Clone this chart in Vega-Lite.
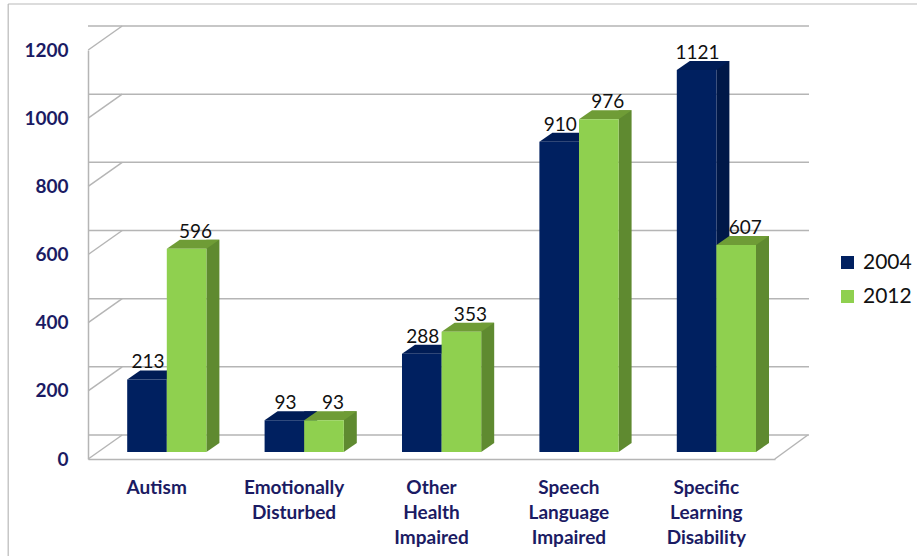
{
"$schema":"https://vega.github.io/schema/vega-lite/v6.json",
"width":687,"height":409,
"autosize":{"type":"none"},
"padding":{"left":88,"top":50,"right":142,"bottom":97},
"background":"white",
"config":{"view":{"stroke":null}},
"datasets":{
"bars":[
{"category":"Autism","year":"2004","value":213},{"category":"Autism","year":"2012","value":596},
{"category":"Emotionally Disturbed","year":"2004","value":93},{"category":"Emotionally Disturbed","year":"2012","value":93},
{"category":"Other Health Impaired","year":"2004","value":288},{"category":"Other Health Impaired","year":"2012","value":353},
{"category":"Speech Language Impaired","year":"2004","value":910},{"category":"Speech Language Impaired","year":"2012","value":976},
{"category":"Specific Learning Disability","year":"2004","value":1121},{"category":"Specific Learning Disability","year":"2012","value":607}],
"ticks":[{"tick":0},{"tick":200},{"tick":400},{"tick":600},{"tick":800},{"tick":1000},{"tick":1200}]
},
"layer":[
{"data":{"name":"ticks"},"mark":{"type":"rule","color":"#b5b5b5","strokeWidth":1.5,"xOffset":34,"yOffset":-24},
 "encoding":{"y":{"field":"tick","type":"quantitative","scale":{"domain":[0,1200],"nice":false}}}},
{"data":{"name":"ticks"},"mark":{"type":"point","shape":"M-29,0L5,-24","size":4,"stroke":"#b5b5b5","strokeWidth":1.5,"opacity":1,"filled":false},
 "encoding":{"x":{"datum":"Autism","bandPosition":0},"y":{"field":"tick","type":"quantitative"}}},
{"data":{"values":[{"tick":0}]},"mark":{"type":"point","shape":"M29,0L62,-24","size":4,"stroke":"#b5b5b5","strokeWidth":1.5,"opacity":1,"filled":false},
 "encoding":{"x":{"datum":"Specific Learning Disability","bandPosition":1},"y":{"field":"tick","type":"quantitative"}}},
{"data":{"values":[{"tick":1200}]},"mark":{"type":"point","shape":"M-109,-46H800M-109,-46V506","size":4,"stroke":"#b9b9b9","strokeWidth":1.2,"opacity":1,"filled":false},
 "encoding":{"x":{"datum":"Autism","bandPosition":0},"y":{"field":"tick","type":"quantitative"}}},
{"data":{"name":"bars"},
 "encoding":{
 "x":{"field":"category","type":"nominal","sort":null,
 "scale":{"domain":["Autism","Emotionally Disturbed","Other Health Impaired","Speech Language Impaired","Specific Learning Disability"],"paddingInner":0.425,"paddingOuter":0.2125},
 "axis":{"title":null,"labelAngle":0,"labelAlign":"center","ticks":false,"labelPadding":28,"labelFont":"Lato","labelFontWeight":"bold","labelFontSize":19,"labelColor":"#1b1b63","domainColor":"#b5b5b5","domainWidth":1.5,"labelLineHeight":25,"labelBaseline":"middle","labelExpr":"split(datum.label,' ')","labelLimit":0}},
 "y":{"field":"value","type":"quantitative","scale":{"domain":[0,1200],"nice":false},
 "axis":{"title":null,"grid":false,"ticks":false,"format":"d","values":[0,200,400,600,800,1000,1200],"labelPadding":20,"labelFont":"Lato","labelFontWeight":"bold","labelFontSize":19,"labelColor":"#1b1b63","domainColor":"#b5b5b5","domainWidth":1.5}}
 },
 "layer":[
 {"mark":{"type":"bar","size":13,"yOffset":-16},
  "encoding":{"xOffset":{"field":"year","type":"nominal","scale":{"domain":["2004","2012"],"range":[36.3,115.5]}},
  "color":{"field":"year","type":"nominal","legend":null,"scale":{"domain":["2004","2012"],"range":["#001848","#5f8a30"]}}}},
 {"layer":[
 {"mark":{"type":"point","shape":"M19.8,0L32.8,0L19.8,9Z","size":4,"filled":true,"opacity":1,"strokeWidth":0,"yOffset":-16},
  "encoding":{"y":{"datum":0,"type":"quantitative"},"color":{"field":"year","type":"nominal","legend":null,"scale":{"domain":["2004","2012"],"range":["#001848","#5f8a30"]}}}},
 {"mark":{"type":"point","shape":"M-19.8,0L-6.8,-9L32.8,-9L19.8,0Z","size":4,"filled":true,"opacity":1,"strokeWidth":0,"yOffset":-7},
  "encoding":{"color":{"field":"year","type":"nominal","legend":null,"scale":{"domain":["2004","2012"],"range":["#001c55","#6f9c36"]}}}},
 {"mark":{"type":"bar","size":39.6,"yOffset":-7},
  "encoding":{"color":{"field":"year","type":"nominal","scale":{"domain":["2004","2012"],"range":["#002060","#8fd04f"]},
   "legend":{"title":null,"orient":"none","legendX":749,"legendY":202,"symbolType":"square","symbolSize":169,"symbolStrokeWidth":0,"symbolOpacity":1,"labelFont":"Lato","labelFontSize":21,"labelColor":"#111111","labelOffset":5,"rowPadding":12}}}},
 {"transform":[{"filter":"datum.year=='2004'"}],"mark":{"type":"text","font":"Lato","fontSize":19,"color":"#111111","baseline":"alphabetic","dx":1,"dy":-18},
  "encoding":{"text":{"field":"value","type":"quantitative"}}},
 {"transform":[{"filter":"datum.year=='2012'"}],"mark":{"type":"text","font":"Lato","fontSize":19,"color":"#111111","baseline":"alphabetic","dx":9,"dy":-18},
  "encoding":{"text":{"field":"value","type":"quantitative"}}}
 ],
 "encoding":{"xOffset":{"field":"year","type":"nominal","scale":{"domain":["2004","2012"],"range":[10,89.2]}}},
 "resolve":{"scale":{"color":"independent"}}
 }
 ],
 "resolve":{"scale":{"color":"independent","xOffset":"independent"}}
}
],
"resolve":{"scale":{"xOffset":"independent","color":"independent"}}
}
